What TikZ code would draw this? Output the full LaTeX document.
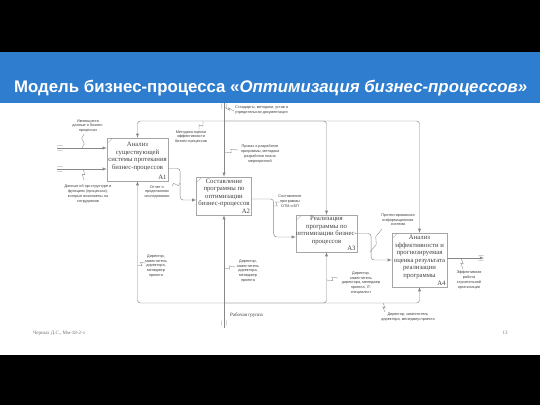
\documentclass[tikz,border=0pt]{standalone}
\usepackage{fontspec}
\setmainfont{Liberation Serif}
\setsansfont{Liberation Sans}
\usetikzlibrary{calc}
\definecolor{band}{RGB}{46,125,206}
\definecolor{ln}{RGB}{135,135,135}
\tikzset{
  func/.style={draw=black!35,fill=white,align=center,inner sep=0pt,
    font=\fontsize{6.7}{7.5}\selectfont,text=black!75},
  funcno/.style={anchor=south east,inner sep=1.5pt,
    font=\fontsize{6.7}{7.5}\selectfont,text=black!75},
  lbl/.style={align=center,inner sep=0pt,
    font=\sffamily\fontsize{3.8}{4.7}\selectfont,text=black!75},
  arr/.style={draw=ln,line width=0.45pt,-latex,rounded corners=3pt},
  squig/.style={draw=ln,line width=0.35pt},
  tun/.style={draw=ln!70,line width=0.35pt}
}
\newcommand\squig[2]{\draw[squig] #1 -- ($#1!0.4!#2+(1.5,1.5)$) -- ($#1!0.6!#2+(-1.5,-1.5)$) -- #2;}
\newcommand\tunv[1]{%
  \draw[tun] ($(#1)+(-2,0)$) to[bend right=25] ++(0,6);
  \draw[tun] ($(#1)+(2,0)$) to[bend left=25] ++(0,6);}
\newcommand\tunh[1]{%
  \draw[tun] ($(#1)+(0,-2)$) to[bend left=25] ++(6,0);
  \draw[tun] ($(#1)+(0,2)$) to[bend right=25] ++(6,0);}

\begin{document}
\begin{tikzpicture}[x=1pt,y=-1pt]
\useasboundingbox (0,0) rectangle (540,405);
\fill[black] (0,0) rectangle (540,405);
\fill[band] (0,52) rectangle (540,103);
\fill[white] (0,103) rectangle (540,355);

\node[anchor=west,text=white,inner sep=0pt,
  font=\sffamily\bfseries\fontsize{16.8}{18}\selectfont] (title) at (14,88)
  {Модель бизнес-процесса «\textit{Оптимизация бизнес-процессов»}};

% functions
\node[func,minimum width=61pt,minimum height=43pt] (A1) at (137.5,159.5)
  {Анализ\\существующей\\системы протекания\\бизнес-процессов\\~};
\node[func,minimum width=55pt,minimum height=38pt] (A2) at (224,196)
  {Составление\\программы по\\оптимизации\\бизнес-процессов\\~};
\node[func,minimum width=60pt,minimum height=37pt] (A3) at (326.5,233.5)
  {Реализация\\программы по\\оптимизации бизнес-\\процессов\\~};
\node[func,minimum width=55pt,minimum height=54pt] (A4) at (419.5,260)
  {Анализ\\эффективности и\\прогнозируемая\\оценка результата\\реализации\\программы\\~};
\node[funcno] (A1no) at (A1.south east) {A1};
\node[funcno] (A2no) at (A2.south east) {A2};
\node[funcno] (A3no) at (A3.south east) {A3};
\node[funcno] (A4no) at (A4.south east) {A4};
\foreach \b in {A1,A2,A3,A4}
  \draw[black!35,line width=0.35pt] ([xshift=1pt,yshift=-5pt]\b.north west) -- ([xshift=5pt,yshift=-1pt]\b.north west);

% controls
\coordinate (ctop) at (224,103);
\coordinate (cbus) at (224,121);
\tunv{ctop}
\draw[arr] (ctop) -- (A2.north);
\draw[arr] (cbus) -| (A1.north);
\draw[arr] (cbus) -| (A3.north);
\draw[arr] (cbus) -| (A4.north);

% inputs
\coordinate (in1) at (57,148);
\coordinate (in2) at (57,169);
\tunh{in1}
\tunh{in2}
\draw[arr] (in1) -- (in1 -| A1.west);
\draw[arr] (in2) -- (in2 -| A1.west);

% outputs
\draw[arr] ([yshift=-9pt]A1.east) -- ++(12,0) |- ([yshift=-4pt]A2.west);
\draw[arr] ([yshift=-3pt]A2.east) -- ++(22,0) |- ([yshift=-3.5pt]A3.west);
\draw[arr] (A3.east) -- ++(14,0) |- (A4.west);
\coordinate (out) at (484,258);
\draw[arr] ([yshift=2pt]A4.east) -- (out);
\tunh{478,258}

% mechanisms
\coordinate (mbus) at (224,303);
\coordinate (mbot) at (224,328);
\tunv{224,320}
\draw[arr] (mbot) -- (A2.south);
\draw[arr] (mbus) -| (A1.south);
\draw[arr] (mbus) -| (A3.south);
\draw[arr] (mbus) -| (A4.south);

% arrow labels
\node[lbl,anchor=west,align=left] (std) at (235,110)
  {Стандарты, методики, устав и\\учредительная документация};
\squig{(224,107)}{(234,111)}
\node[lbl] (meth) at (191,137) {Методика оценки\\эффективности\\бизнес-процессов};
\squig{(203,121)}{(199,130)}
\node[lbl] (ord) at (260,154) {Приказ о разработке\\программы, методика\\разработки плана\\мероприятий};
\squig{(224,152)}{(238,150)}
\node[lbl] (dat1) at (88,126) {Имеющиеся\\данные о бизнес-\\процессах};
\squig{(82,148)}{(84,134)}
\node[lbl] (dat2) at (88,194) {Данные об орг.структуре и\\функциях (процессах),\\которые возложены на\\сотрудников};
\squig{(83,169)}{(84,180)}
\node[lbl] (rep) at (157,192) {Отчет о\\проделанном\\исследовании};
\squig{(180,183)}{(172,186)}
\node[lbl] (prg) at (290,201) {Составление\\программы\\ОТМ и БП};
\squig{(273,206)}{(280,202)}
\node[lbl] (tst) at (398,220) {Протестированная\\информационная\\система};
\squig{(370,252)}{(382,229)}
\node[lbl] (eff) at (469,280) {Эффективная\\работа\\строительной\\организации};
\squig{(461,258)}{(463,269)}
\node[lbl] (m1) at (156,266) {Директор,\\заместитель\\директора,\\менеджер\\проекта};
\squig{(137.5,265)}{(145,263)}
\node[lbl] (m2) at (248,271) {Директор,\\заместитель\\директора,\\менеджер\\проекта};
\squig{(224,268)}{(235,267)}
\node[lbl] (m3) at (361,283) {Директор,\\заместитель\\директора, менеджер\\проекта, IT-\\специалист};
\squig{(326.5,280)}{(338,278)}
\node[lbl] (m4) at (408,317) {Директор, заместитель\\директора, менеджер проекта};
\squig{(383,303)}{(385,312)}
\node[anchor=west,inner sep=0pt,font=\fontsize{5}{6}\selectfont,text=black!75] (grp) at (230,315) {Рабочая группа};

% footer
\node[anchor=west,inner sep=0pt,font=\fontsize{5}{6}\selectfont,text=black!55] (foot) at (33,333) {Черных Д.С., Мм-18-2-з};
\node[inner sep=0pt,font=\fontsize{5}{6}\selectfont,text=black!55] (page) at (505,333) {13};
\end{tikzpicture}
\end{document}
